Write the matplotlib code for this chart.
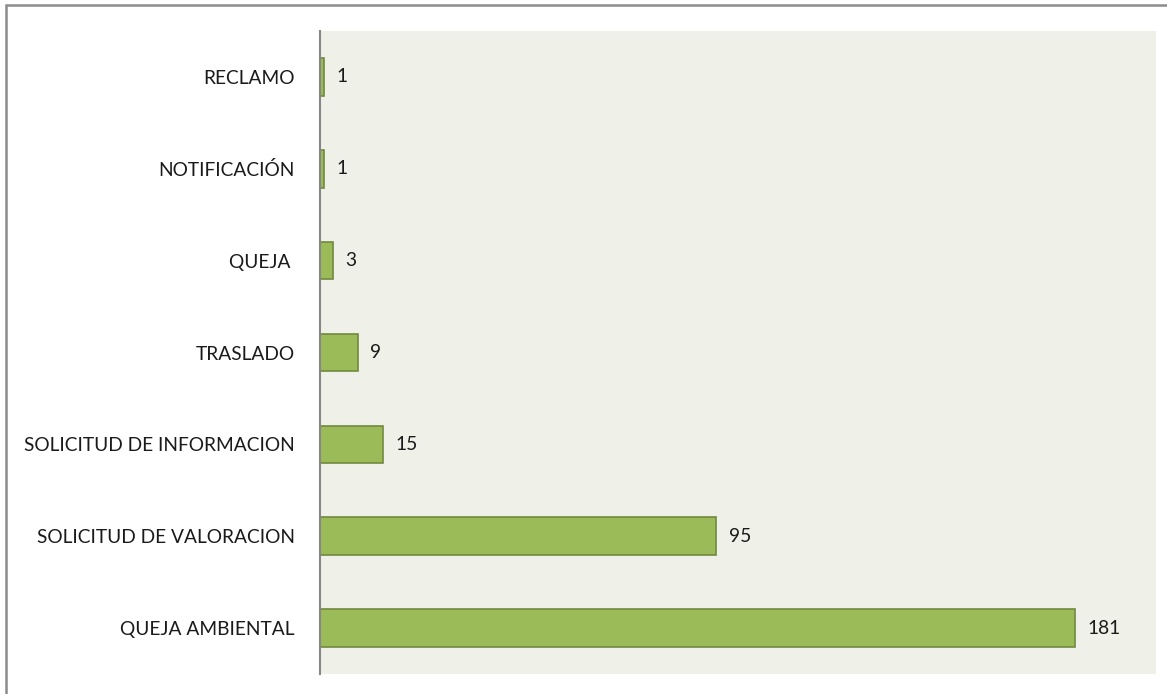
import matplotlib
matplotlib.use("Agg")
import matplotlib.pyplot as plt
from matplotlib.patches import Rectangle

# categories listed top to bottom as in the chart
categories = [
    "RECLAMO",
    "NOTIFICACIÓN",
    "QUEJA ",
    "TRASLADO",
    "SOLICITUD DE INFORMACION",
    "SOLICITUD DE VALORACION",
    "QUEJA AMBIENTAL",
]
counts = [1, 1, 3, 9, 15, 95, 181]

plt.rcParams["font.family"] = ["Lato", "DejaVu Sans"]

fig = plt.figure(figsize=(11.67, 6.94), dpi=100)
ax = fig.add_axes([0.2742, 0.0288, 0.7164, 0.9265])
ax.set_facecolor("#EFF1E8")

ypos = list(range(len(categories)))[::-1]
ax.barh(ypos, counts, height=0.41, color="#9BBB59",
        edgecolor="#71893F", linewidth=1.2, zorder=2)

for y, v in zip(ypos, counts):
    ax.annotate(str(v), (v, y), xytext=(9, 0), textcoords="offset points",
                va="center", ha="left", fontsize=13.8, color="#1a1a1a")

ax.set_xlim(0, 200.5)
ax.set_ylim(-0.5, len(categories) - 0.5)
ax.set_yticks(ypos)
ax.set_yticklabels(categories, fontsize=13.8, color="#1a1a1a")
ax.set_xticks([])
ax.tick_params(axis="y", length=0, pad=18)

for s in ("top", "right", "bottom"):
    ax.spines[s].set_visible(False)
ax.spines["left"].set_color("#868686")
ax.spines["left"].set_linewidth(1.5)
ax.spines["left"].set_zorder(3)

# outer chart border (right and bottom edges fall outside the image)
fig.patches.append(Rectangle((6 / 1167, -0.1), 1.2, 1.1 - 5 / 694,
                             transform=fig.transFigure, fill=False,
                             edgecolor="#8C8C8C", linewidth=1.8))

fig.savefig("out.png", dpi=100)
